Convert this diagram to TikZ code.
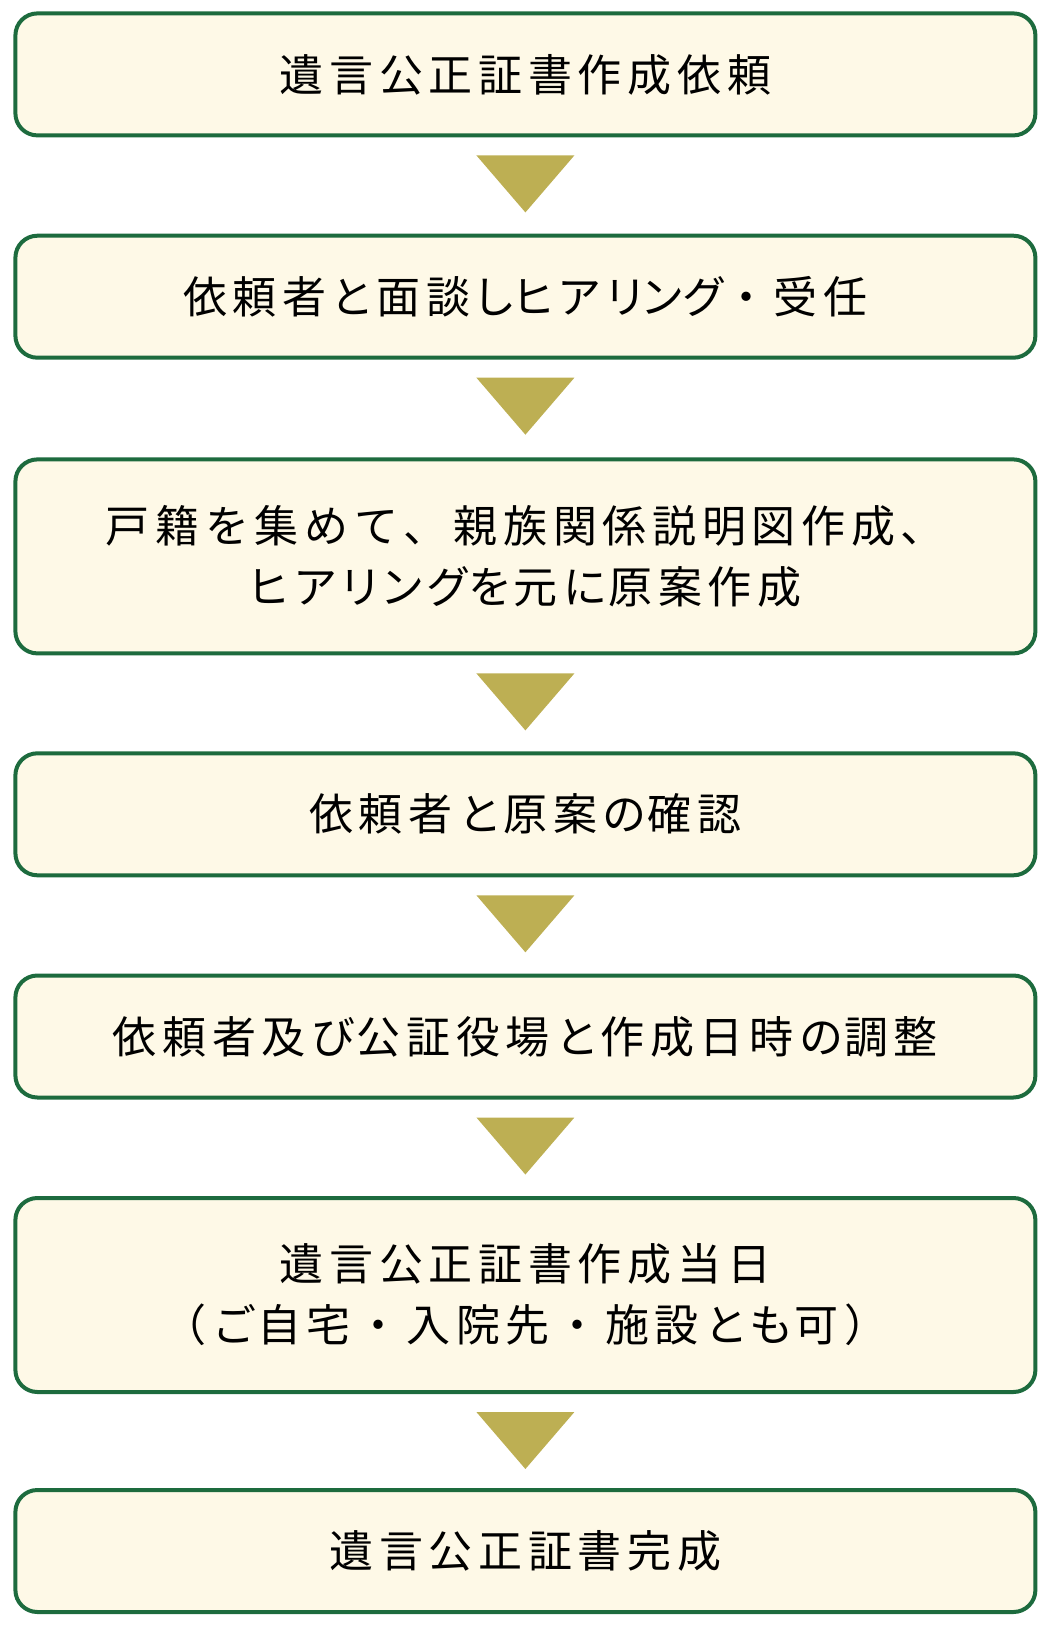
\documentclass[tikz,border=0pt]{standalone}
\usepackage{fontspec}
\usetikzlibrary{calc}
\newfontfamily\jp{Noto Sans CJK JP}
\newfontfamily\jpp[RawFeature=+palt]{Noto Sans CJK JP}
\newlength\ls
\setlength\ls{5.7pt}
\newlength\tk
\setlength\tk{4.7pt}
\def\pon{\jpp}
\def\poff{\jp}
\def\tight{\kern-\tk}
\def\sptxt#1{\sptxti#1\relax}
\def\sptxti#1{\ifx\relax#1\kern-\ls\else\ifx\pon#1\jpp\else\ifx\poff#1\jp\else\ifx\tight#1\kern-\tk\else#1\kern\ls\fi\fi\fi\expandafter\sptxti\fi}
\definecolor{boxline}{HTML}{1D6B3E}
\definecolor{boxfill}{HTML}{FEF9E7}
\definecolor{arrowfill}{HTML}{BDAF53}
\begin{document}
\begin{tikzpicture}[x=1pt,y=-1pt,
  stepbox/.style={draw=boxline, line width=4pt, fill=boxfill, rounded corners=22pt,
    minimum width=1020pt, minimum height=122pt, inner sep=0pt, align=center,
    font=\jp\fontsize{44pt}{61pt}\selectfont},
  tallbox/.style={minimum height=194pt}]
\useasboundingbox (0,0) rectangle (1050,1625);
\node[stepbox] (b1) at (525.4,74.4) {\sptxt{遺言公正証書作成依頼}};
\node[stepbox] (b2) at (525.4,296.7) {\sptxt{依頼者\pon と\poff 面談\pon し\tight ヒアリ\tight ン\tight グ\tight \poff ・受任}};
\node[stepbox,tallbox] (b3) at (525.4,556.4) {\sptxt{戸籍を集めて、親族関係説明図作成、}\\\sptxt{\pon ヒアリング\tight \poff を\tight 元に\tight 原案作成}};
\node[stepbox] (b4) at (525.4,814.3) {\sptxt{依頼者と\tight 原案の\tight 確認}};
\node[stepbox] (b5) at (525.4,1036.5) {\sptxt{依頼者及び\tight 公証役場と\tight 作成日時の\tight 調整}};
\node[stepbox,tallbox] (b6) at (525.4,1295) {\sptxt{遺言公正証書作成当日}\\\sptxt{（ご\tight 自宅・入院先・施設と\tight も\tight 可）}};
\node[stepbox] (b7) at (525.4,1551) {\sptxt{遺言公正証書完成}};
\foreach \u in {b1,b2,b3,b4,b5,b6}{
  \fill[arrowfill] ($(\u.south)+(-49,18)$) -- ($(\u.south)+(49,18)$) -- ($(\u.south)+(0,75)$) -- cycle;
}
\end{tikzpicture}
\end{document}
